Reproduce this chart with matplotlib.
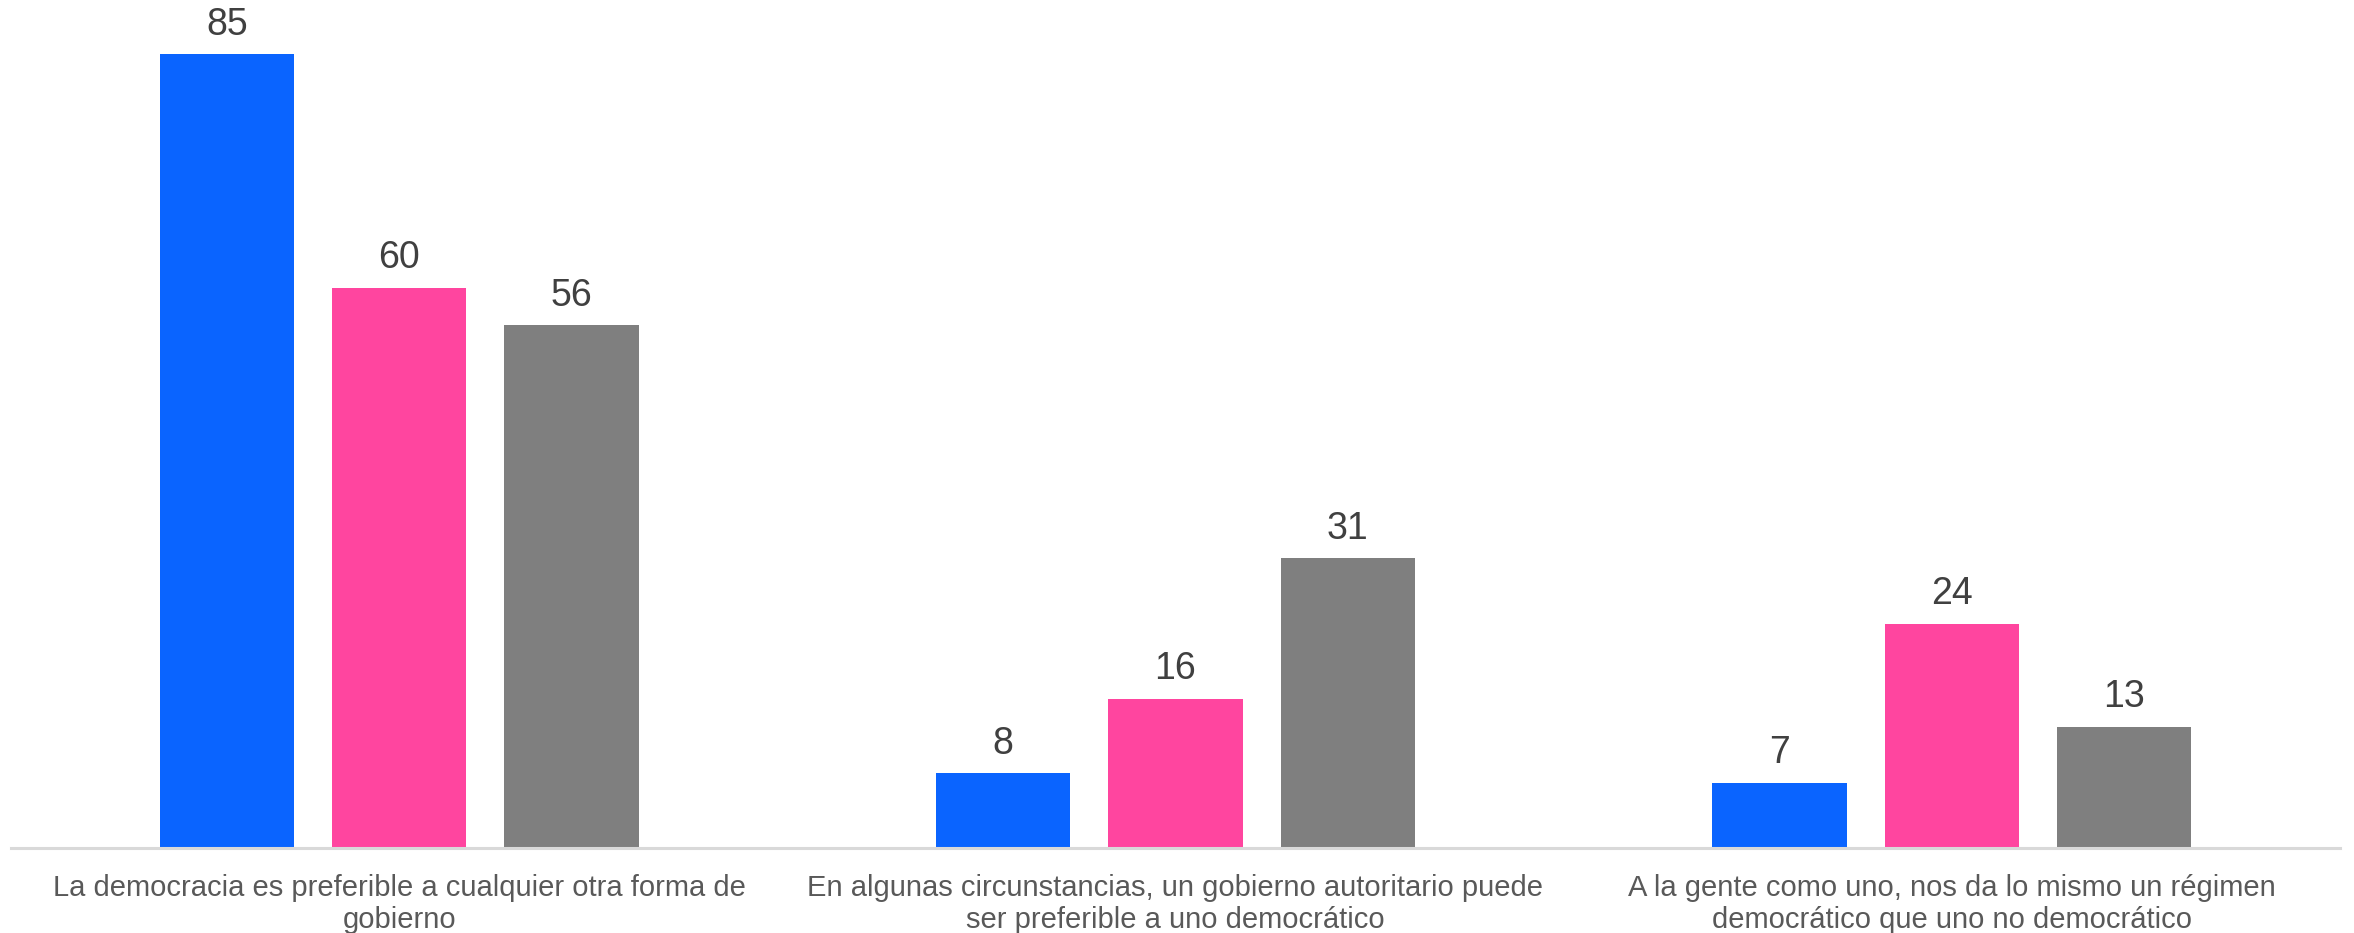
import matplotlib.pyplot as plt
import numpy as np

plt.rcParams['font.family'] = ['Liberation Sans', 'DejaVu Sans']

categories = ['La democracia es preferible a cualquier otra forma de\ngobierno',
              'En algunas circunstancias, un gobierno autoritario puede\nser preferible a uno democrático',
              'A la gente como uno, nos da lo mismo un régimen\ndemocrático que uno no democrático']
serie_a = [85, 8, 7]
serie_b = [60, 16, 24]
serie_c = [56, 31, 13]

colors = ['#0A64FF', '#FF459F', '#7F7F7F']

fig = plt.figure(figsize=(23.54, 9.33), dpi=100)
ax = fig.add_axes([11 / 2354, 85 / 933, 2329 / 2354, 848 / 933])

x = np.arange(len(categories))
step = 0.222
width = 0.173

for i, (vals, c) in enumerate(zip([serie_a, serie_b, serie_c], colors)):
    pos = x + (i - 1) * step
    ax.bar(pos, vals, width=width, color=c)
    for p, v in zip(pos, vals):
        ax.annotate(str(v), (p, v), xytext=(0, 14), textcoords='offset points',
                    ha='center', va='baseline', fontsize=27, color='#404040')

ax.set_xlim(-0.5, len(categories) - 0.5)
ax.set_ylim(0, 90.8)
ax.set_yticks([])
ax.set_xticks(x)
ax.set_xticklabels(categories, fontsize=21, color='#595959', linespacing=1.15)
ax.tick_params(axis='x', length=0, pad=19)
for s in ['top', 'right', 'left']:
    ax.spines[s].set_visible(False)
ax.spines['bottom'].set_color('#D9D9D9')
ax.spines['bottom'].set_linewidth(2.2)

fig.savefig('out.png', dpi=100)
